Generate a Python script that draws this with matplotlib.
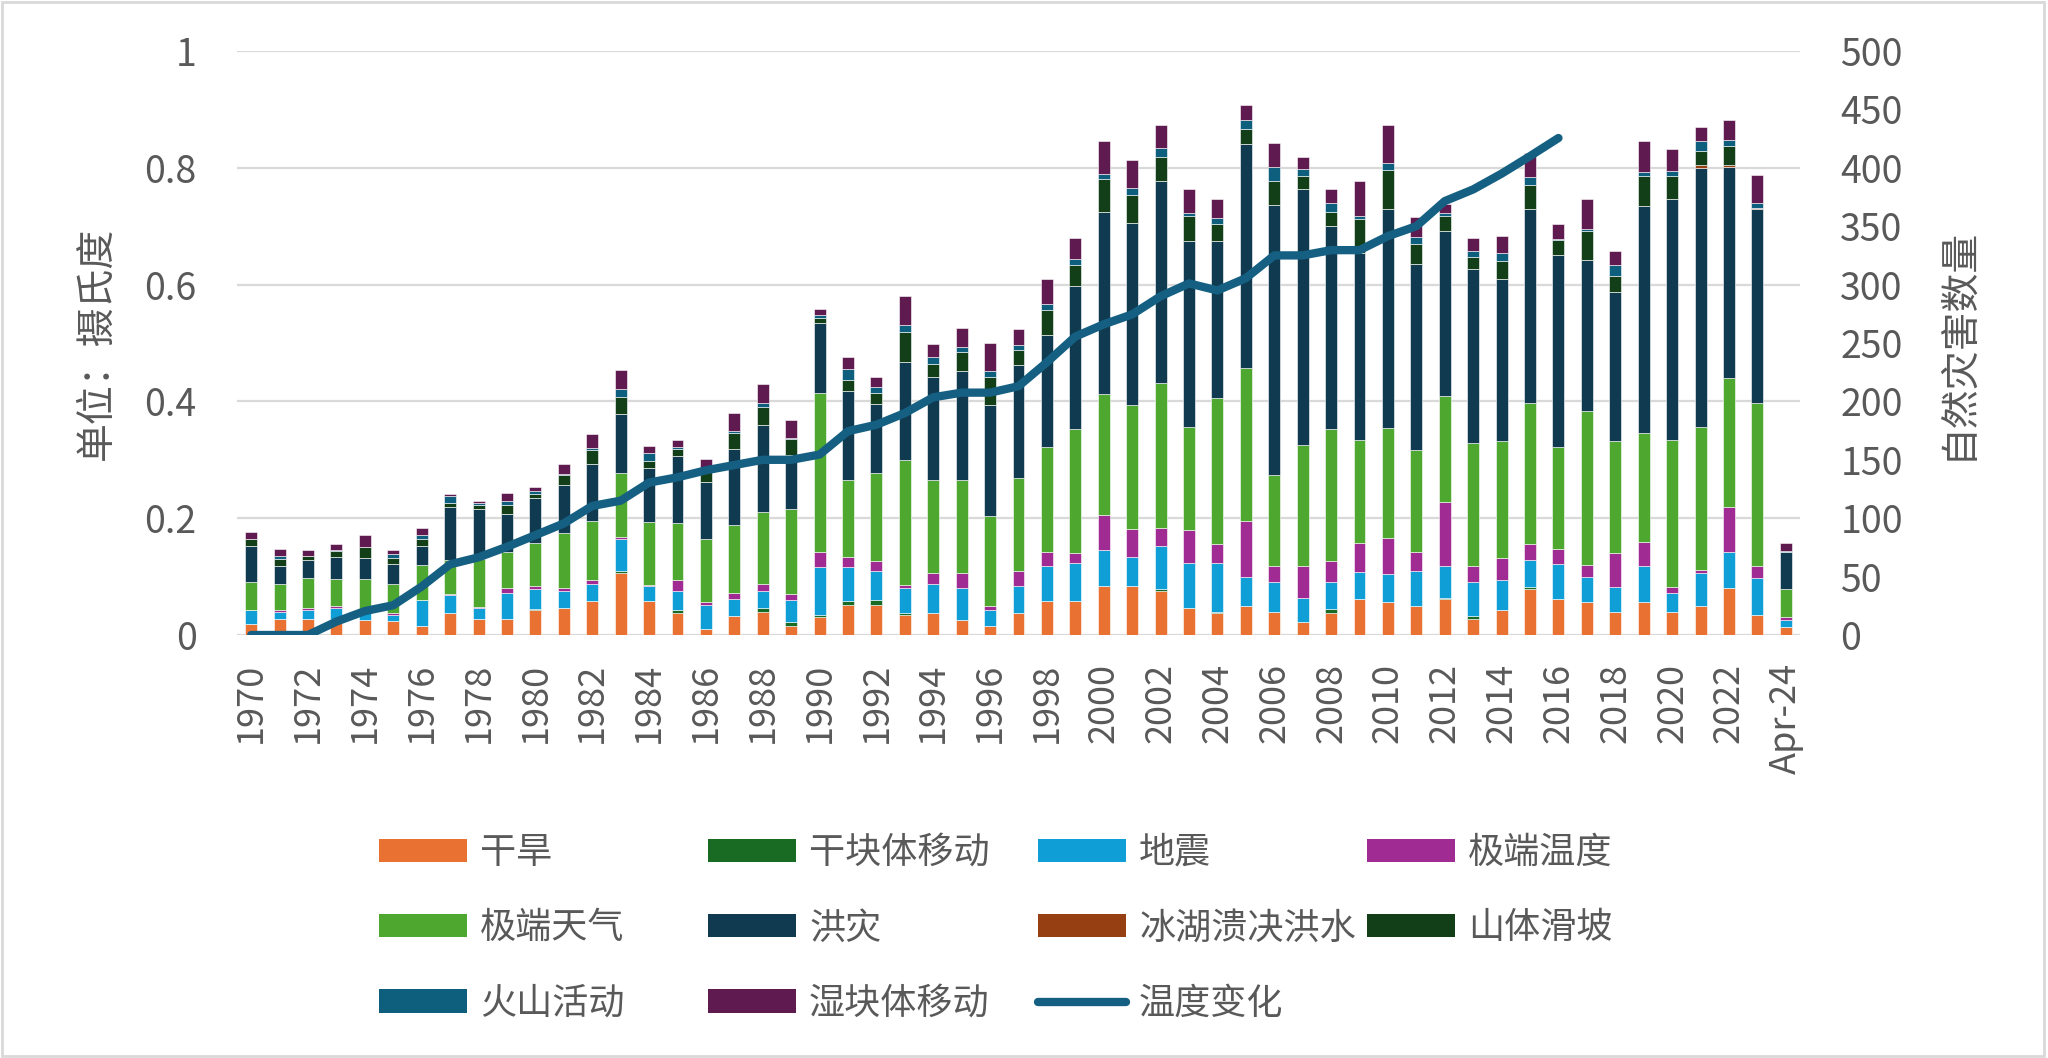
import matplotlib
matplotlib.use("Agg")
import matplotlib.pyplot as plt
from matplotlib.patches import Patch, Rectangle
from matplotlib.lines import Line2D
import numpy as np

plt.rcParams['font.family'] = ['Noto Sans CJK SC', 'DejaVu Sans']

# 数据
years = [str(y) for y in range(1970, 2024)] + ['Apr-24']

drought = [9, 14, 14, 14, 13, 12, 8, 19, 14, 14,
           21, 23, 29, 53, 29, 19, 5, 16, 20, 8,
           15, 26, 26, 17, 19, 13, 8, 19, 29, 29,
           42, 42, 38, 23, 19, 25, 20, 11, 19, 31,
           28, 25, 31, 14, 21, 39, 31, 28, 20, 28,
           20, 25, 40, 17, 7]
dry_mass = [0, 0, 0, 0, 0, 0, 0, 0, 0, 0,
            1, 0, 0, 2, 0, 2, 0, 0, 3, 3,
            2, 3, 4, 2, 0, 0, 0, 0, 0, 0,
            0, 0, 1, 0, 1, 0, 0, 0, 3, 0,
            0, 0, 1, 2, 0, 2, 0, 0, 0, 0,
            0, 0, 0, 0, 0]
earthquake = [12, 6, 7, 9, 6, 5, 22, 15, 9, 22,
              17, 15, 15, 27, 13, 17, 21, 15, 15, 19,
              41, 29, 25, 21, 25, 27, 13, 23, 30, 33,
              31, 25, 37, 39, 42, 25, 25, 21, 23, 23,
              24, 30, 27, 29, 26, 23, 30, 22, 21, 31,
              16, 28, 31, 32, 6]
ext_temp = [0, 1, 2, 2, 0, 2, 0, 1, 1, 4,
            3, 2, 3, 2, 1, 9, 2, 5, 6, 5,
            13, 9, 8, 3, 9, 13, 4, 13, 12, 8,
            30, 24, 16, 28, 16, 48, 14, 27, 18, 25,
            31, 16, 55, 14, 19, 14, 13, 10, 29, 21,
            5, 3, 39, 10, 2]
ext_weather = [24, 23, 26, 23, 29, 25, 30, 29, 41, 31,
               37, 47, 51, 55, 54, 49, 54, 58, 61, 73,
               136, 66, 76, 107, 80, 80, 77, 79, 90, 106,
               103, 106, 124, 88, 125, 131, 78, 104, 113, 88,
               94, 87, 91, 105, 100, 121, 87, 132, 96, 93,
               126, 122, 110, 140, 24]
flood = [31, 15, 15, 19, 18, 17, 16, 46, 43, 33,
         38, 41, 48, 50, 46, 57, 49, 65, 75, 46,
         60, 76, 59, 84, 88, 93, 95, 97, 96, 123,
         156, 156, 173, 159, 134, 191, 231, 219, 174, 160,
         188, 160, 141, 149, 139, 166, 164, 129, 128, 194,
         206, 222, 181, 166, 32]
glacial = [0] * 51 + [2, 1, 1, 0]
landslide = [6, 6, 4, 5, 9, 5, 6, 3, 3, 7,
             4, 9, 12, 15, 6, 6, 12, 14, 15, 14,
             4, 9, 9, 25, 11, 16, 24, 13, 21, 18,
             28, 24, 20, 22, 15, 13, 21, 11, 12, 29,
             33, 17, 13, 11, 15, 20, 13, 25, 13, 26,
             20, 12, 17, 0, 0]
volcano = [0, 3, 0, 1, 0, 3, 4, 6, 2, 4,
           2, 1, 2, 7, 7, 2, 0, 2, 4, 1,
           3, 10, 5, 6, 6, 5, 5, 4, 5, 5,
           5, 6, 8, 2, 5, 8, 12, 6, 8, 3,
           6, 6, 2, 5, 7, 7, 1, 2, 10, 3,
           4, 9, 5, 4, 1]
wet_mass = [6, 6, 5, 5, 11, 4, 6, 2, 2, 7,
            4, 8, 12, 16, 6, 6, 8, 15, 16, 15,
            5, 10, 9, 25, 11, 16, 24, 14, 22, 18,
            28, 24, 20, 21, 16, 13, 20, 10, 12, 30,
            33, 17, 8, 11, 15, 21, 13, 25, 12, 27,
            19, 12, 17, 24, 7]

# 温度变化 (1970-2016)
temp = [0, 0, 0, 0.023, 0.041, 0.051, 0.083, 0.121, 0.133, 0.151,
        0.171, 0.191, 0.221, 0.230, 0.261, 0.270, 0.282, 0.291, 0.300, 0.300,
        0.309, 0.349, 0.360, 0.380, 0.407, 0.415, 0.415, 0.426, 0.467, 0.511,
        0.532, 0.549, 0.580, 0.602, 0.590, 0.611, 0.650, 0.650, 0.659, 0.659,
        0.683, 0.700, 0.743, 0.763, 0.790, 0.820, 0.851]

series = [
    ('干旱', drought, '#E97132'),
    ('干块体移动', dry_mass, '#196B24'),
    ('地震', earthquake, '#0F9ED5'),
    ('极端温度', ext_temp, '#A02B93'),
    ('极端天气', ext_weather, '#4EA72E'),
    ('洪灾', flood, '#0F3A50'),
    ('冰湖溃决洪水', glacial, '#963F12'),
    ('山体滑坡', landslide, '#123F17'),
    ('火山活动', volcano, '#0E5E7E'),
    ('湿块体移动', wet_mass, '#5F1A50'),
]
line_color = '#156082'
text_color = '#595959'
grid_color = '#D9D9D9'

W, H = 2048, 1058
fig = plt.figure(figsize=(W / 100, H / 100), dpi=100)
ax = fig.add_axes([237 / W, 1 - 635 / H, (1800 - 237) / W, (635 - 51) / H])

x = np.arange(len(years))
bottom = np.zeros(len(years))
for name, vals, col in series:
    vals = np.array(vals, dtype=float)
    ax.bar(x, vals, width=0.42, bottom=bottom, color=col,
           edgecolor='white', linewidth=0.4, zorder=2)
    bottom += vals

for v in range(0, 501, 100):
    ax.axhline(v, color=grid_color, lw=1.6, zorder=0)

ax.set_xlim(-0.5, len(years) - 0.5)
ax.set_ylim(0, 500)
ax.set_xticks(x[::2])
ax.set_xticklabels(years[::2], rotation=90)
ax.tick_params(axis='x', length=0, pad=20, labelsize=26, labelcolor=text_color)
for s in ax.spines.values():
    s.set_visible(False)

# 温度线 (左轴)
ax2 = ax.twinx()
ax2.plot(np.arange(len(temp)), temp, color=line_color, lw=6,
         solid_capstyle='round', solid_joinstyle='round', zorder=5)
ax2.set_ylim(0, 1)
for s in ax2.spines.values():
    s.set_visible(False)

# 柱子的刻度放右边, 温度刻度放左边 (twinx 之后再设)
ax.yaxis.tick_right()
ax.set_yticks(range(0, 501, 50))
ax.tick_params(axis='y', length=0, pad=29, labelsize=27, labelcolor=text_color)
ax2.yaxis.tick_left()
ax2.set_yticks([0, 0.2, 0.4, 0.6, 0.8, 1])
ax2.set_yticklabels(['0', '0.2', '0.4', '0.6', '0.8', '1'])
ax2.tick_params(axis='y', length=0, pad=29, labelsize=27, labelcolor=text_color)

fig.text(97 / W, 1 - 343 / H, '单位：摄氏度', rotation=90, ha='center', va='center',
         fontsize=28, color=text_color)
fig.text(1957 / W, 1 - 343 / H, '自然灾害数量', rotation=90, ha='center', va='center',
         fontsize=28, color=text_color)

# 图例 (四列, 按行排列)
handles = [Patch(facecolor=c, edgecolor='none') for _, _, c in series]
labels = [n for n, _, _ in series]
handles.append(Line2D([], [], color=line_color, lw=6, solid_capstyle='round'))
labels.append('温度变化')

col_x = [379, 708, 1038, 1367]
for ci, cx in enumerate(col_x):
    idx = list(range(ci, len(labels), 4))
    fig.legend([handles[i] for i in idx], [labels[i] for i in idx],
               loc='upper left', bbox_to_anchor=(cx / W, 1 - 835 / H),
               frameon=False, fontsize=26, handlelength=2.44, handleheight=0.61,
               handletextpad=0.36, borderpad=0, borderaxespad=0,
               labelspacing=1.09, labelcolor=text_color)

fig.add_artist(Rectangle((0.001, 0.002), 0.997, 0.996, transform=fig.transFigure,
                         fill=False, edgecolor=grid_color, lw=2))

fig.savefig('out.png', dpi=100)
